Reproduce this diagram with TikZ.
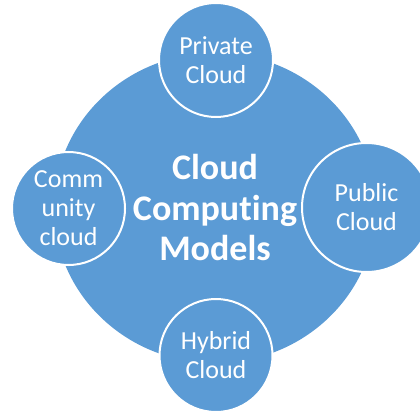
\documentclass[tikz,border=0pt]{standalone}
\usepackage{fontspec}
\setmainfont{Carlito}[Ligatures=NoCommon]
\usepackage{xcolor}
\definecolor{cloudblue}{HTML}{5B9BD5}

\begin{document}
\begin{tikzpicture}[x=1pt,y=1pt,
        small/.style={circle, fill=cloudblue, draw=white, line width=2pt, text=white,
            align=center, inner sep=0pt, font=\fontsize{26}{29}\selectfont}]
        \useasboundingbox (0,0) rectangle (420,413);

        \coordinate (M) at (215,205);
        \coordinate (A) at (216,353);
        \coordinate (B) at (366.5,205.5);
        \coordinate (C) at (216,57.5);
        \coordinate (D) at (68.5,204.5);

        \fill[cloudblue] (M) ellipse (161pt and 155pt);
        % break the t-i ligature
        \node[text=white, align=center, font=\bfseries\fontsize{36}{40.5}\selectfont] (T) at (M) {Cloud\\Comput\kern0pt ing\\Models};

        \node[small, minimum size=114pt] (P) at (A) {Private\\Cloud};
        \node[small, minimum size=129pt] (Q) at (B) {Public\\Cloud};
        \node[small, minimum size=113pt] (H) at (C) {Hybrid\\Cloud};
        \node[small, minimum size=113pt] (K) at (D) {Comm\\unity\\cloud};
    \end{tikzpicture}
\end{document}
